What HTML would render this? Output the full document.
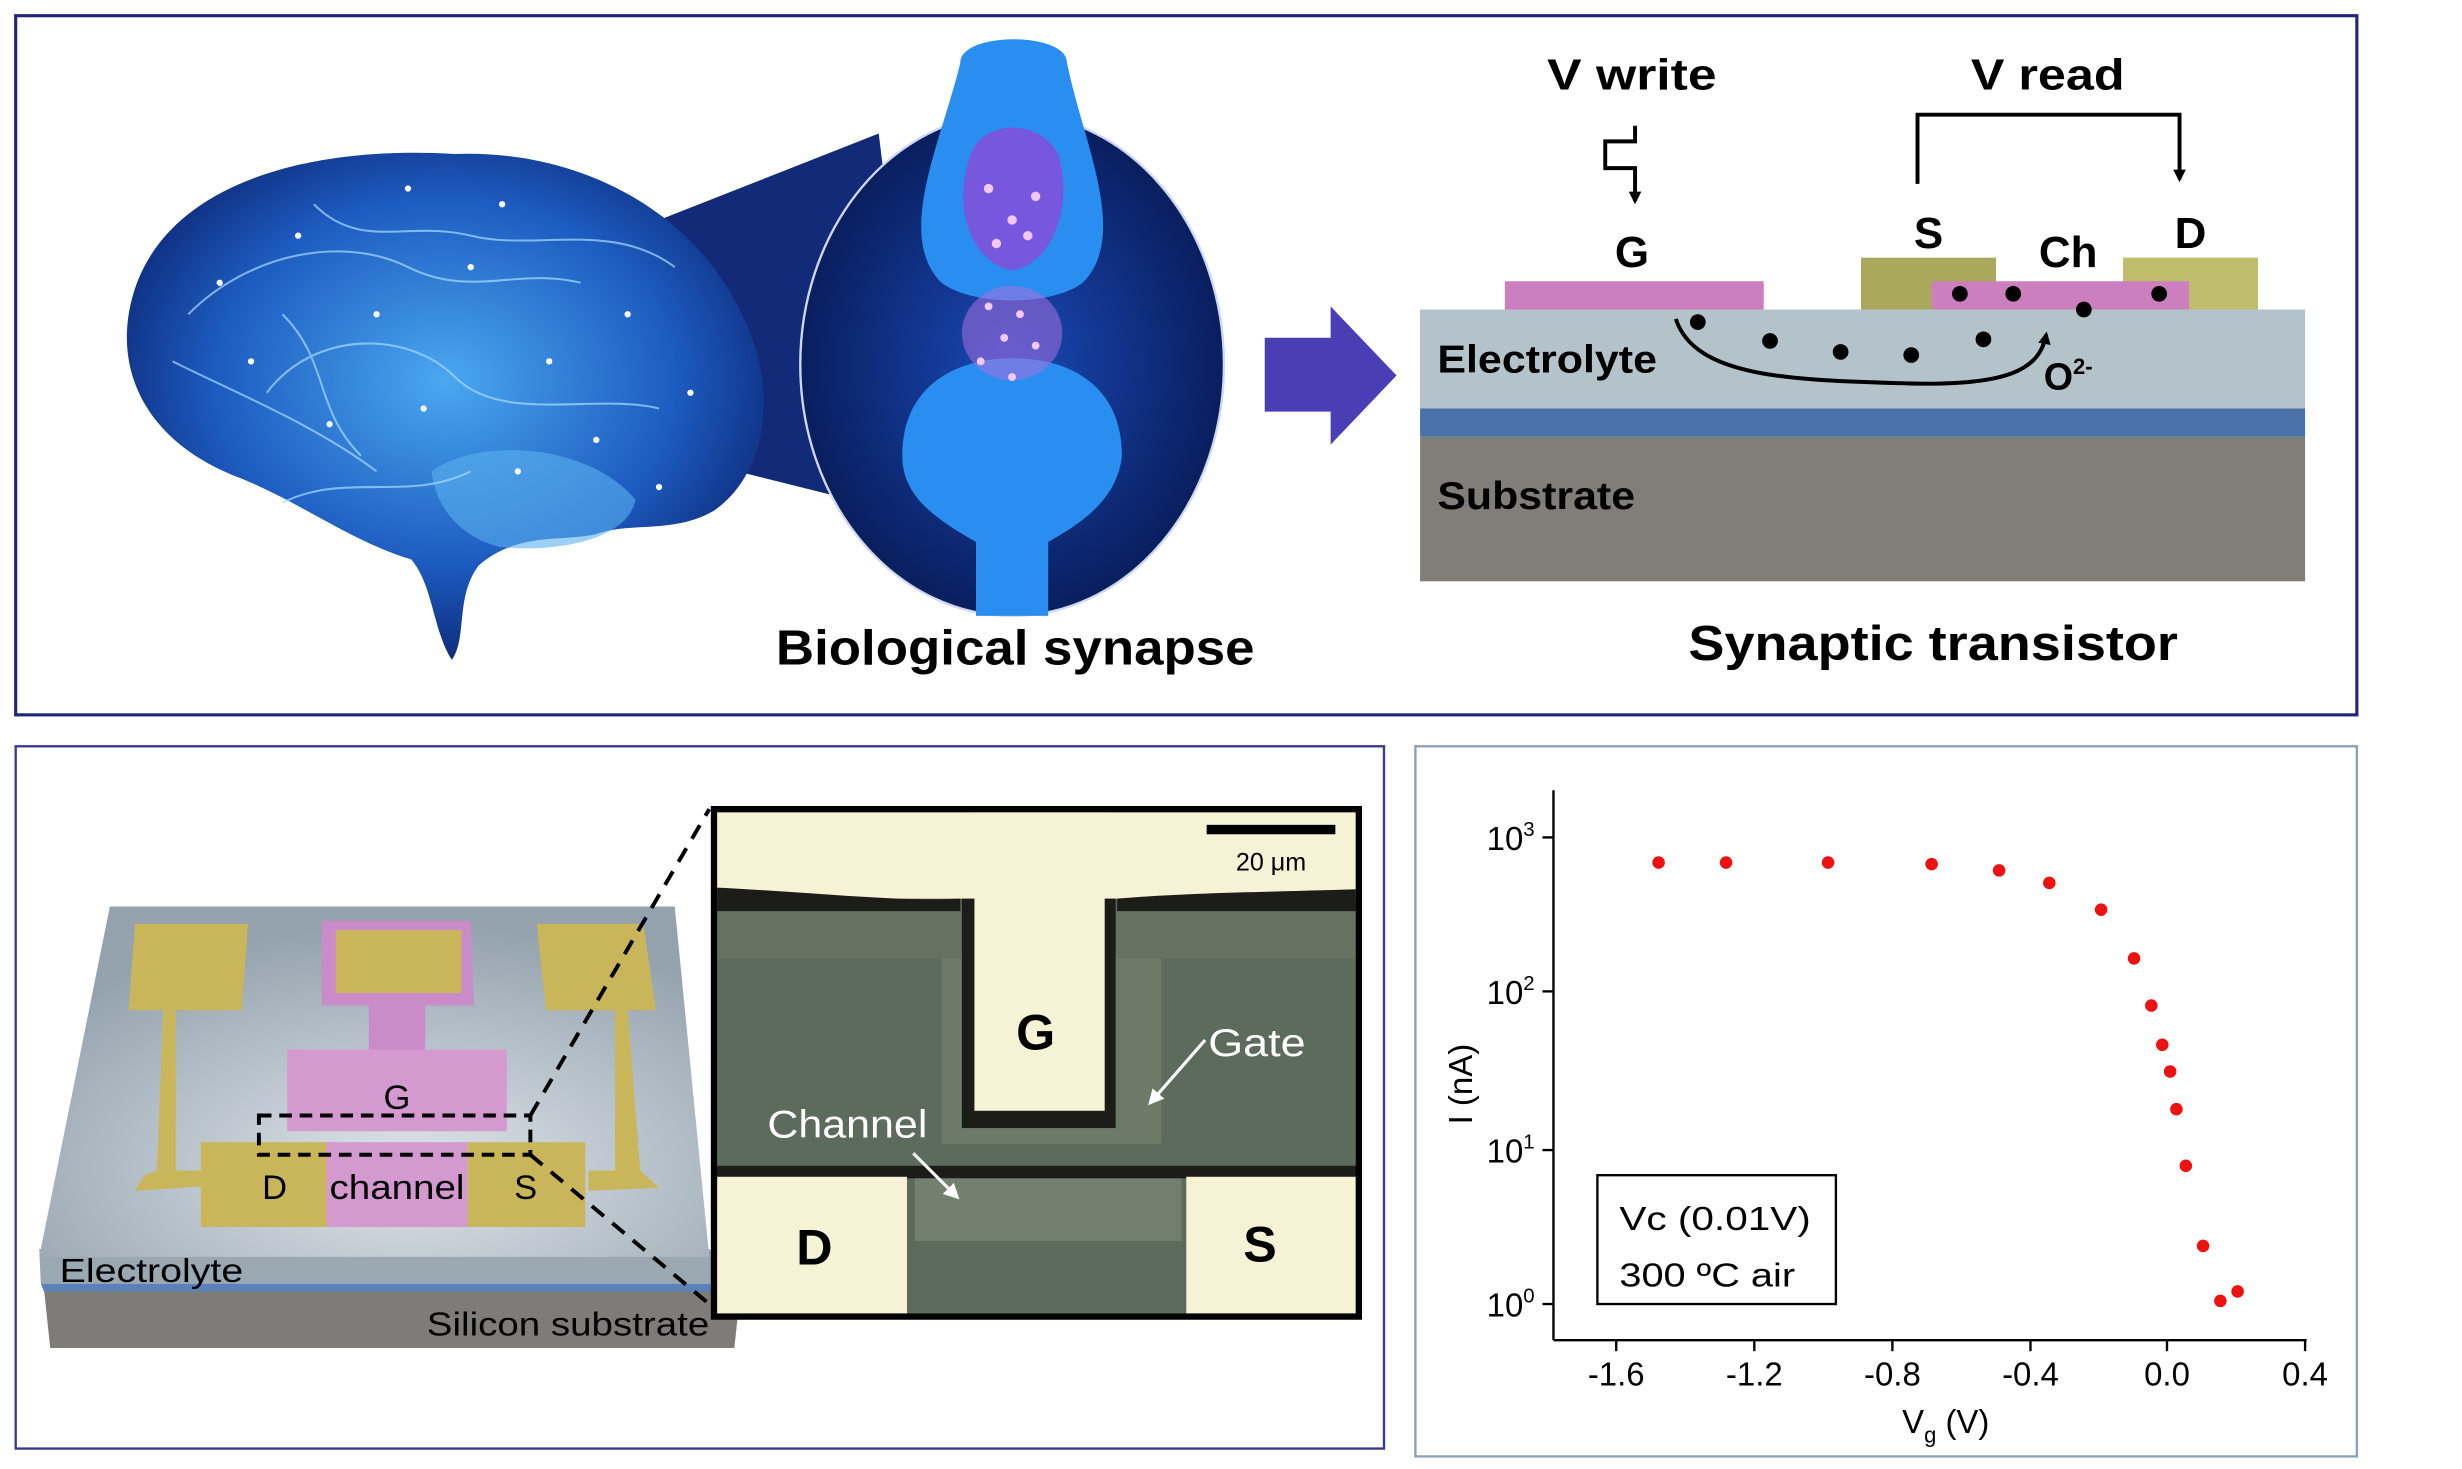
<!DOCTYPE html>
<html><head><meta charset="utf-8"><style>html,body{margin:0;padding:0;background:#fff}svg{display:block}</style></head><body>
<svg width="2462" height="1469" viewBox="0 0 1569 935" preserveAspectRatio="none" xmlns="http://www.w3.org/2000/svg" font-family="Liberation Sans, sans-serif">
<defs>
<radialGradient id="br" cx="50%" cy="45%" r="60%"><stop offset="0" stop-color="#4aa8f0"/><stop offset="0.6" stop-color="#1d5cc0"/><stop offset="1" stop-color="#0a1f6a"/></radialGradient>
<radialGradient id="syn" cx="50%" cy="50%" r="55%"><stop offset="0" stop-color="#1a4ab8"/><stop offset="1" stop-color="#071a55"/></radialGradient>
<radialGradient id="chip" cx="55%" cy="75%" r="70%"><stop offset="0" stop-color="#dfe4ea"/><stop offset="1" stop-color="#93a2ad"/></radialGradient>
<marker id="ah" markerWidth="8" markerHeight="8" refX="6" refY="4" orient="auto" markerUnits="userSpaceOnUse"><path d="M0,0 L8,4 L0,8 Z" fill="#000"/></marker>
<marker id="wh" markerWidth="10" markerHeight="10" refX="8" refY="5" orient="auto" markerUnits="userSpaceOnUse"><path d="M0,0 L10,5 L0,10 Z" fill="#fff"/></marker>
</defs>
<rect x="10" y="10" width="1492" height="445" fill="#fff" stroke="#23237a" stroke-width="2"/>
<rect x="10" y="475" width="872" height="447" fill="#fff" stroke="#3a3a8a" stroke-width="1.5"/>
<rect x="902" y="475" width="600" height="452" fill="#fff" stroke="#8ea0b8" stroke-width="1.5"/>

<!-- brain -->
<polygon points="420,140 560,85 590,330 470,300" fill="#132a78"/>
<path d="M82,200 C95,120 190,92 290,98 C370,95 445,135 475,205 C498,255 485,305 455,325 C430,340 400,332 380,340 C360,345 330,338 305,360 C290,380 298,405 288,420 C276,402 276,372 262,356 C225,345 195,322 155,305 C100,285 75,245 82,200 Z" fill="url(#br)"/>
<path d="M275,300 C305,278 375,282 405,318 C400,345 350,352 318,348 C295,342 278,325 275,300 Z" fill="#5ab0f0" opacity="0.6"/>
<g fill="none" stroke="#a8dcff" stroke-width="1.3" opacity="0.7">
<path d="M120,200 C160,160 220,150 260,170 C300,190 330,170 370,180"/>
<path d="M170,250 C200,210 260,210 290,240 C320,270 380,250 420,260"/>
<path d="M110,230 C150,250 200,270 240,300"/>
<path d="M200,130 C230,160 260,140 300,150 C340,160 390,140 430,170"/>
<path d="M180,320 C220,300 260,320 300,300"/>
<path d="M180,200 C210,230 200,260 230,290"/>
</g>
<g fill="#fff">
<circle cx="140" cy="180" r="2"/><circle cx="190" cy="150" r="2"/><circle cx="240" cy="200" r="2"/><circle cx="300" cy="170" r="2"/><circle cx="350" cy="230" r="2"/><circle cx="400" cy="200" r="2"/><circle cx="270" cy="260" r="2"/><circle cx="210" cy="270" r="2"/><circle cx="330" cy="300" r="2"/><circle cx="380" cy="280" r="2"/><circle cx="440" cy="250" r="2"/><circle cx="160" cy="230" r="2"/><circle cx="260" cy="120" r="2"/><circle cx="320" cy="130" r="2"/><circle cx="420" cy="310" r="2"/>
</g>
<!-- synapse -->
<ellipse cx="645" cy="232" rx="135" ry="160" fill="url(#syn)" stroke="#cfd8f0" stroke-width="1.5"/>
<path d="M612,40 C612,20 680,20 680,40 C690,90 720,150 690,180 C670,195 620,195 600,180 C570,150 600,90 612,40 Z" fill="#2a8ef0"/>
<path d="M618,100 C625,75 665,75 675,100 C685,140 665,170 645,172 C625,170 605,140 618,100 Z" fill="#8a4ad8" opacity="0.8"/>
<path d="M575,290 C575,245 610,228 645,228 C685,228 715,248 715,290 C712,320 685,335 668,345 L668,392 L622,392 L622,345 C600,332 575,318 575,290 Z" fill="#2a8ef0"/>
<ellipse cx="645" cy="212" rx="32" ry="30" fill="#a870e0" opacity="0.55"/>
<g fill="#f4c8ff"><circle cx="630" cy="195" r="2.5"/><circle cx="650" cy="200" r="2.5"/><circle cx="640" cy="215" r="2.5"/><circle cx="660" cy="220" r="2.5"/><circle cx="625" cy="230" r="2.5"/><circle cx="645" cy="240" r="2.5"/><circle cx="630" cy="120" r="3"/><circle cx="660" cy="125" r="3"/><circle cx="645" cy="140" r="3"/><circle cx="635" cy="155" r="3"/><circle cx="655" cy="150" r="3"/></g>
<text x="647" y="423" font-size="31" font-weight="bold" text-anchor="middle" textLength="305" lengthAdjust="spacingAndGlyphs">Biological synapse</text>

<polygon points="806,215 848,215 848,195 890,239 848,283 848,262 806,262" fill="#4a3eb5"/>

<!-- transistor -->
<rect x="905" y="278" width="564" height="92" fill="#7f7e79"/>
<rect x="905" y="260" width="564" height="18" fill="#4a72a8"/>
<rect x="905" y="197" width="564" height="63" fill="#b4c2c9"/>
<rect x="959" y="179" width="165" height="18" fill="#cc7fbf"/>
<rect x="1186" y="164" width="86" height="33" fill="#aaa85a"/>
<rect x="1353" y="164" width="86" height="33" fill="#bfbd6c"/>
<rect x="1231" y="179" width="164" height="18" fill="#cc7fbf"/>
<g font-weight="bold" font-size="28" text-anchor="middle">
<text x="1040" y="57" textLength="108" lengthAdjust="spacingAndGlyphs">V write</text><text x="1305" y="57" textLength="98" lengthAdjust="spacingAndGlyphs">V read</text>
<text x="1040" y="170">G</text><text x="1229" y="158">S</text><text x="1318" y="170">Ch</text><text x="1396" y="158">D</text>
<text x="1318" y="248" font-size="24">O<tspan font-size="14" dy="-10">2-</tspan></text>
<text x="1232" y="420" font-size="31" textLength="312" lengthAdjust="spacingAndGlyphs">Synaptic transistor</text>
</g>
<text x="916" y="237" font-size="25" font-weight="bold" textLength="140" lengthAdjust="spacingAndGlyphs">Electrolyte</text>
<text x="916" y="324" font-size="25" font-weight="bold" textLength="126" lengthAdjust="spacingAndGlyphs">Substrate</text>
<polyline points="1222,117 1222,73 1389,73 1389,114" fill="none" stroke="#000" stroke-width="2.5" marker-end="url(#ah)"/>
<polyline points="1042,80 1042,90 1023,90 1023,107 1042,107 1042,128" fill="none" stroke="#000" stroke-width="2.5" marker-end="url(#ah)"/>
<path d="M1068,203 C1080,240 1140,242 1215,244 C1280,246 1300,235 1304,213" fill="none" stroke="#000" stroke-width="2.5" marker-end="url(#ah)"/>
<g fill="#000"><circle cx="1249" cy="187" r="5"/><circle cx="1283" cy="187" r="5"/><circle cx="1376" cy="187" r="5"/><circle cx="1328" cy="197" r="5"/><circle cx="1082" cy="205" r="5"/><circle cx="1128" cy="217" r="5"/><circle cx="1173" cy="224" r="5"/><circle cx="1218" cy="226" r="5"/><circle cx="1264" cy="216" r="5"/></g>

<!-- chip 3D -->
<polygon points="28,820 472,820 468,858 32,858" fill="#7d7c78"/>
<polygon points="26,817 470,817 470,822 28,822" fill="#5a82b8"/>
<polygon points="25,795 452,795 470,817 26,817" fill="#9aa8b2"/>
<polygon points="70,577 430,577 452,800 25,800" fill="url(#chip)"/>
<g fill="#c9b65a">
<polygon points="86,588 158,588 154,643 82,643"/><polygon points="342,588 410,588 418,643 348,643"/>
<polygon points="104,643 112,643 112,745 130,745 130,755 86,758 92,748 100,745"/>
<polygon points="392,643 400,643 408,745 420,756 375,758 375,745 392,745"/>
<rect x="128" y="727" width="85" height="54"/><rect x="298" y="727" width="75" height="54"/>
</g>
<polygon points="205,586 300,586 302,640 205,640" fill="#c98cc8"/><rect x="214" y="592" width="80" height="40" fill="#c9b65a"/>
<rect x="235" y="640" width="36" height="30" fill="#c98cc8"/>
<rect x="183" y="668" width="140" height="52" fill="#d49ad0"/>
<rect x="208" y="727" width="90" height="54" fill="#d49ad0"/>
<g font-size="22" text-anchor="middle"><text x="253" y="706">G</text><text x="175" y="763">D</text><text x="253" y="763" textLength="86" lengthAdjust="spacingAndGlyphs">channel</text><text x="335" y="763">S</text></g>
<text x="38" y="816" font-size="21" textLength="117" lengthAdjust="spacingAndGlyphs">Electrolyte</text>
<text x="272" y="850" font-size="21" textLength="180" lengthAdjust="spacingAndGlyphs">Silicon substrate</text>
<rect x="165" y="710" width="173" height="25" fill="none" stroke="#000" stroke-width="2.5" stroke-dasharray="8,5"/>
<line x1="338" y1="710" x2="452" y2="515" stroke="#000" stroke-width="2.5" stroke-dasharray="10,7"/>
<line x1="338" y1="735" x2="452" y2="830" stroke="#000" stroke-width="2.5" stroke-dasharray="10,7"/>

<!-- micrograph -->
<rect x="455" y="515" width="411" height="323" fill="#5d6b5c"/>
<rect x="457" y="517" width="407" height="55" fill="#f6f2d6"/>
<path d="M457,565 C520,568 570,574 612,572 L612,580 L457,580 Z" fill="#1c1c18"/>
<path d="M712,572 C760,568 800,568 864,566 L864,580 L712,580 Z" fill="#1c1c18"/>
<rect x="457" y="580" width="407" height="30" fill="#65725f"/>
<rect x="600" y="610" width="140" height="118" fill="#6e7a68"/>
<rect x="613" y="572" width="98" height="146" fill="#1c1c18"/>
<rect x="621" y="517" width="83" height="190" fill="#f6f2d6"/>
<rect x="455" y="742" width="411" height="8" fill="#1c1c18"/>
<rect x="583" y="750" width="170" height="40" fill="#74806e"/>
<rect x="457" y="749" width="121" height="87" fill="#f6f2d6"/>
<rect x="756" y="749" width="108" height="87" fill="#f6f2d6"/>
<rect x="455" y="515" width="411" height="323" fill="none" stroke="#000" stroke-width="4"/>
<rect x="769" y="525" width="82" height="6" fill="#000"/>
<text x="810" y="554" font-size="16" text-anchor="middle">20 μm</text>
<g font-weight="bold" font-size="32" text-anchor="middle"><text x="660" y="668">G</text><text x="519" y="805">D</text><text x="803" y="803">S</text></g>
<text x="770" y="672" font-size="25" fill="#fff" textLength="62" lengthAdjust="spacingAndGlyphs">Gate</text>
<text x="489" y="724" font-size="25" fill="#fff" textLength="102" lengthAdjust="spacingAndGlyphs">Channel</text>
<line x1="768" y1="662" x2="733" y2="702" stroke="#fff" stroke-width="2" marker-end="url(#wh)"/>
<line x1="582" y1="734" x2="610" y2="762" stroke="#fff" stroke-width="2" marker-end="url(#wh)"/>

<!-- chart -->
<g stroke="#000" stroke-width="1.5" fill="none">
<line x1="990" y1="503" x2="990" y2="853"/><line x1="990" y1="853" x2="1470" y2="853"/>
</g>
<g stroke="#000" stroke-width="1.5">
<line x1="1030" y1="853" x2="1030" y2="860"/><line x1="1118" y1="853" x2="1118" y2="860"/><line x1="1206" y1="853" x2="1206" y2="860"/><line x1="1294" y1="853" x2="1294" y2="860"/><line x1="1381" y1="853" x2="1381" y2="860"/><line x1="1469" y1="853" x2="1469" y2="860"/>
<line x1="983" y1="533" x2="990" y2="533"/><line x1="983" y1="631" x2="990" y2="631"/><line x1="983" y1="732" x2="990" y2="732"/><line x1="983" y1="830" x2="990" y2="830"/>
</g>
<g font-size="21" text-anchor="middle"><text x="1030" y="882">-1.6</text><text x="1118" y="882">-1.2</text><text x="1206" y="882">-0.8</text><text x="1294" y="882">-0.4</text><text x="1381" y="882">0.0</text><text x="1469" y="882">0.4</text></g>
<g font-size="21" text-anchor="end"><text x="978" y="541">10<tspan font-size="13" dy="-9">3</tspan></text><text x="978" y="639">10<tspan font-size="13" dy="-9">2</tspan></text><text x="978" y="740">10<tspan font-size="13" dy="-9">1</tspan></text><text x="978" y="838">10<tspan font-size="13" dy="-9">0</tspan></text></g>
<text transform="translate(938,690) rotate(-90)" font-size="21" text-anchor="middle">I  (nA)</text>
<text x="1240" y="912" font-size="21" text-anchor="middle">V<tspan font-size="14" dy="6">g</tspan><tspan dy="-6"> (V)</tspan></text>
<g fill="#ee1111"><circle cx="1057" cy="549" r="4"/><circle cx="1100" cy="549" r="4"/><circle cx="1165" cy="549" r="4"/><circle cx="1231" cy="550" r="4"/><circle cx="1274" cy="554" r="4"/><circle cx="1306" cy="562" r="4"/><circle cx="1339" cy="579" r="4"/><circle cx="1360" cy="610" r="4"/><circle cx="1371" cy="640" r="4"/><circle cx="1378" cy="665" r="4"/><circle cx="1383" cy="682" r="4"/><circle cx="1387" cy="706" r="4"/><circle cx="1393" cy="742" r="4"/><circle cx="1404" cy="793" r="4"/><circle cx="1415" cy="828" r="4"/><circle cx="1426" cy="822" r="4"/></g>
<rect x="1018" y="748" width="152" height="82" fill="#fff" stroke="#000" stroke-width="1.5"/>
<text x="1032" y="783" font-size="21" textLength="122" lengthAdjust="spacingAndGlyphs">Vc  (0.01V)</text>
<text x="1032" y="819" font-size="21" textLength="112" lengthAdjust="spacingAndGlyphs">300 ºC air</text>
</svg>
</body></html>
